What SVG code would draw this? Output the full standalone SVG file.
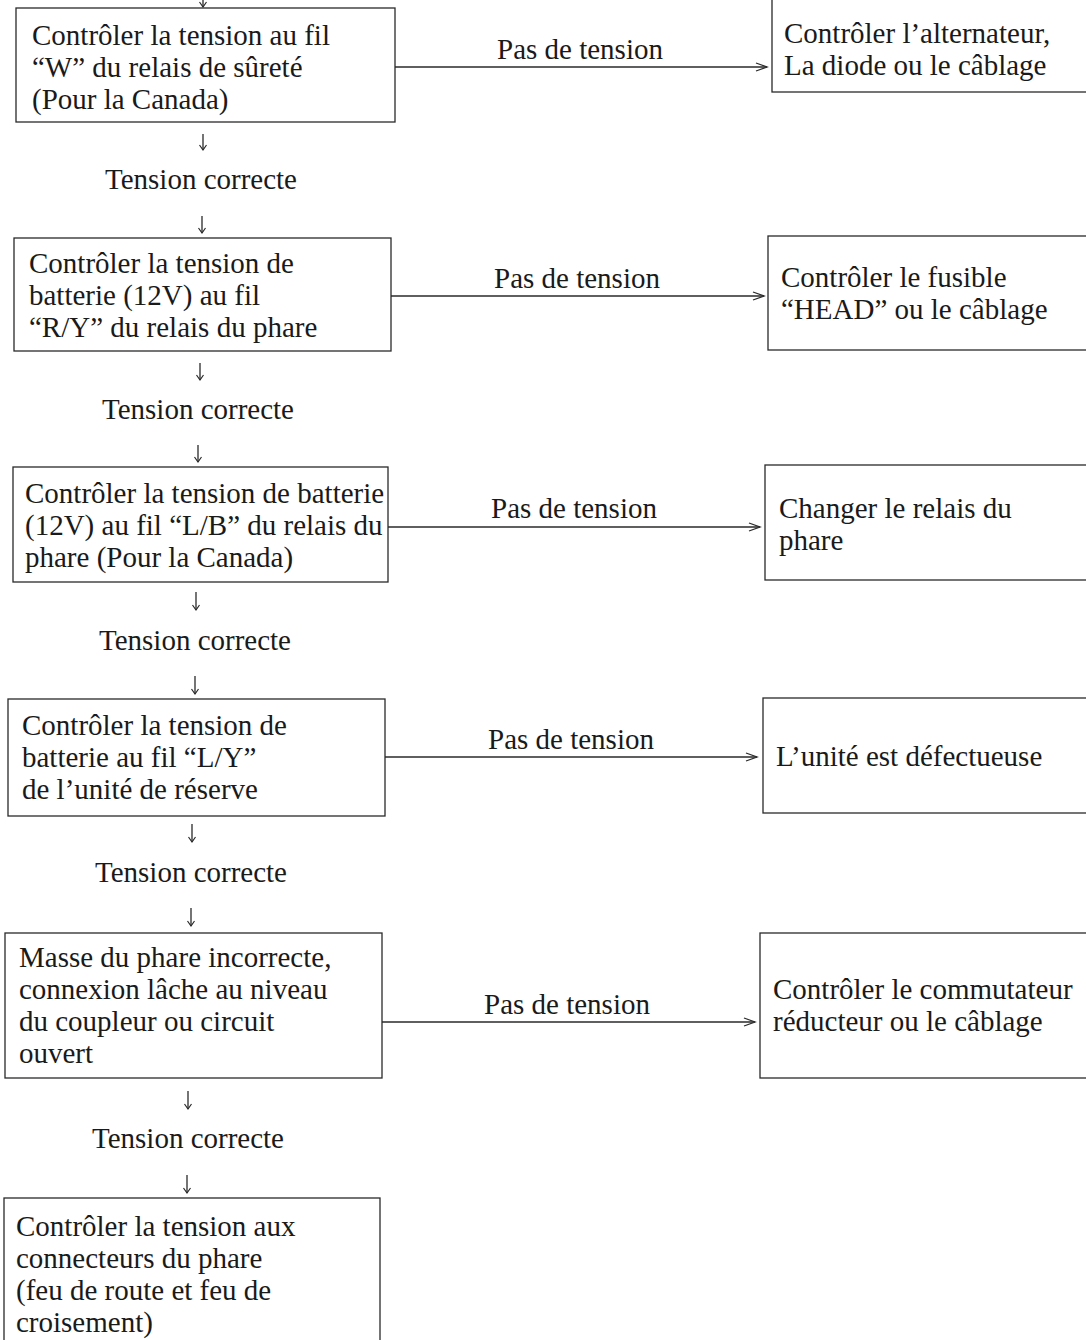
<svg xmlns="http://www.w3.org/2000/svg" width="1086" height="1340" viewBox="0 0 1086 1340">
<defs>
<style>
.box{fill:#fff;stroke:#2a2a2a;stroke-width:1.3}
.t{font-family:"Liberation Serif","Times New Roman",serif;font-size:29px;fill:#1a1a1a}
.c{text-anchor:middle}
.ln{stroke:#2a2a2a;stroke-width:1.3;fill:none}
</style>
<marker id="ah" markerWidth="14" markerHeight="10" refX="12" refY="5" orient="auto" markerUnits="userSpaceOnUse">
<path d="M1,1 L12,5 L1,9" fill="none" stroke="#2a2a2a" stroke-width="1.3"/>
</marker>
<marker id="dh" markerWidth="10" markerHeight="10" refX="5" refY="8" orient="0" markerUnits="userSpaceOnUse">
<path d="M1.5,3 L5,8 L8.5,3" fill="none" stroke="#2a2a2a" stroke-width="1.2"/>
</marker>
</defs>
<rect width="1086" height="1340" fill="#fff"/>

<g id="connectors">
<path class="ln" d="M203,-2 V7" marker-end="url(#dh)"/>
<path class="ln" d="M395,67 H767" marker-end="url(#ah)"/>
<path class="ln" d="M203,134 V150" marker-end="url(#dh)"/>
<path class="ln" d="M202,216 V233" marker-end="url(#dh)"/>
<path class="ln" d="M391,296 H764" marker-end="url(#ah)"/>
<path class="ln" d="M200,363 V380" marker-end="url(#dh)"/>
<path class="ln" d="M198,445 V462" marker-end="url(#dh)"/>
<path class="ln" d="M388,527 H760" marker-end="url(#ah)"/>
<path class="ln" d="M196,592 V610" marker-end="url(#dh)"/>
<path class="ln" d="M195,676 V694" marker-end="url(#dh)"/>
<path class="ln" d="M385,757 H757" marker-end="url(#ah)"/>
<path class="ln" d="M192,824 V842" marker-end="url(#dh)"/>
<path class="ln" d="M191,908 V926" marker-end="url(#dh)"/>
<path class="ln" d="M382,1022 H755" marker-end="url(#ah)"/>
<path class="ln" d="M188,1091 V1109" marker-end="url(#dh)"/>
<path class="ln" d="M187,1175 V1193" marker-end="url(#dh)"/>
<text class="t c" x="580" y="59">Pas de tension</text>
<text class="t c" x="577" y="288">Pas de tension</text>
<text class="t c" x="574" y="518">Pas de tension</text>
<text class="t c" x="571" y="749">Pas de tension</text>
<text class="t c" x="567" y="1014">Pas de tension</text>
<text class="t c" x="201" y="189">Tension correcte</text>
<text class="t c" x="198" y="419">Tension correcte</text>
<text class="t c" x="195" y="650">Tension correcte</text>
<text class="t c" x="191" y="882">Tension correcte</text>
<text class="t c" x="188" y="1148">Tension correcte</text>
</g>

<g id="n1">
<rect class="box" x="16" y="8" width="379" height="114"/>
<text class="t"><tspan x="32" y="45">Contrôler la tension au fil</tspan><tspan x="32" y="77">“W” du relais de sûreté</tspan><tspan x="32" y="109">(Pour la Canada)</tspan></text>
</g>
<g id="r1">
<rect class="box" x="772" y="-1" width="320" height="93"/>
<text class="t"><tspan x="784" y="43">Contrôler l’alternateur,</tspan><tspan x="784" y="75">La diode ou le câblage</tspan></text>
</g>

<g id="n2">
<rect class="box" x="14" y="238" width="377" height="113"/>
<text class="t"><tspan x="29" y="273">Contrôler la tension de</tspan><tspan x="29" y="305">batterie (12V) au fil</tspan><tspan x="29" y="337">“R/Y” du relais du phare</tspan></text>
</g>
<g id="r2">
<rect class="box" x="768" y="236" width="324" height="114"/>
<text class="t"><tspan x="781" y="287">Contrôler le fusible</tspan><tspan x="781" y="319">“HEAD” ou le câblage</tspan></text>
</g>

<g id="n3">
<rect class="box" x="13" y="467" width="375" height="115"/>
<text class="t"><tspan x="25" y="503">Contrôler la tension de batterie</tspan><tspan x="25" y="535">(12V) au fil “L/B” du relais du</tspan><tspan x="25" y="567">phare (Pour la Canada)</tspan></text>
</g>
<g id="r3">
<rect class="box" x="765" y="465" width="327" height="115"/>
<text class="t"><tspan x="779" y="518">Changer le relais du</tspan><tspan x="779" y="550">phare</tspan></text>
</g>

<g id="n4">
<rect class="box" x="8" y="699" width="377" height="117"/>
<text class="t"><tspan x="22" y="735">Contrôler la tension de</tspan><tspan x="22" y="767">batterie au fil “L/Y”</tspan><tspan x="22" y="799">de l’unité de réserve</tspan></text>
</g>
<g id="r4">
<rect class="box" x="763" y="698" width="329" height="115"/>
<text class="t"><tspan x="776" y="766">L’unité est défectueuse</tspan></text>
</g>

<g id="n5">
<rect class="box" x="5" y="933" width="377" height="145"/>
<text class="t"><tspan x="19" y="967">Masse du phare incorrecte,</tspan><tspan x="19" y="999">connexion lâche au niveau</tspan><tspan x="19" y="1031">du coupleur ou circuit</tspan><tspan x="19" y="1063">ouvert</tspan></text>
</g>
<g id="r5">
<rect class="box" x="760" y="933" width="332" height="145"/>
<text class="t"><tspan x="773" y="999">Contrôler le commutateur</tspan><tspan x="773" y="1031">réducteur ou le câblage</tspan></text>
</g>

<g id="n6">
<rect class="box" x="4" y="1198" width="376" height="150"/>
<text class="t"><tspan x="16" y="1236">Contrôler la tension aux</tspan><tspan x="16" y="1268">connecteurs du phare</tspan><tspan x="16" y="1300">(feu de route et feu de</tspan><tspan x="16" y="1332">croisement)</tspan></text>
</g>
</svg>
